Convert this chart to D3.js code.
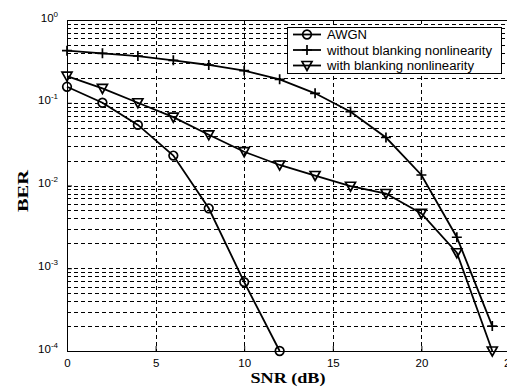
<!DOCTYPE html>
<html>
<head>
<meta charset="utf-8">
<script src="https://cdn.jsdelivr.net/npm/d3@7"></script>
<style>
  body { margin: 0; background: #fff; }
  svg { display: block; }
</style>
</head>
<body>
<div id="berchart"></div>
<script>
var snr = [0, 2, 4, 6, 8, 10, 12, 14, 16, 18, 20, 22, 24];
var awgn = [0.156, 0.1, 0.054, 0.023, 0.0053, 0.00068, 0.0001];
var noBlanking = [0.426, 0.396, 0.367, 0.326, 0.286, 0.244, 0.192, 0.130, 0.078, 0.038, 0.0134, 0.00237, 0.0002];
var withBlanking = [0.21, 0.149, 0.1, 0.067, 0.041, 0.0256, 0.0177, 0.0132, 0.0098, 0.008, 0.0046, 0.00154, 0.0001];
var xTicks = [0, 5, 10, 15, 20, 25];
var yExps = [-4, -3, -2, -1, 0];
var legendLabels = ["AWGN", "without blanking nonlinearity", "with blanking nonlinearity"];

var margin = {top: 20, left: 67},
    width = 507,
    height = 390,
    width_g = 443,
    height_g = 331;

var svg = d3.select("#berchart").append("svg")
    .attr("width", width)
    .attr("height", height);

var x = d3.scaleLinear().domain([0, 25]).range([0, width_g]);
var y = d3.scaleLog().domain([1e-4, 1]).range([height_g, 0]);

var frg = svg.append("g")
    .attr("transform", "translate(" + margin.left + "," + margin.top + ")");

// grid lines, dashed like matlab
var minorY = [];
yExps.slice(0, 4).forEach(function (e) {
    for (var k = 1; k <= 9; k++) {
        if (k == 1 && e == -4) continue;
        minorY.push(k * Math.pow(10, e));
    }
});
var grid = frg.append("g").attr("class", "grid")
    .attr("stroke", "#000").attr("stroke-width", 1).attr("stroke-dasharray", "4,3");
grid.selectAll(".hy").data(minorY).enter().append("line")
    .attr("x1", 0).attr("x2", width_g)
    .attr("y1", function (d) { return Math.round(y(d)) + 0.5; })
    .attr("y2", function (d) { return Math.round(y(d)) + 0.5; });
grid.selectAll(".vx").data([5, 10, 15, 20]).enter().append("line")
    .attr("y1", 0).attr("y2", height_g)
    .attr("x1", function (d) { return Math.round(x(d)) + 0.5; })
    .attr("x2", function (d) { return Math.round(x(d)) + 0.5; });

// axes
var xAxis = d3.axisBottom(x).tickValues(xTicks).tickSize(-5).tickPadding(8);
var yAxis = d3.axisLeft(y).tickValues(yExps.map(function (e) { return Math.pow(10, e); }))
    .tickSize(-5).tickPadding(8).tickFormat("");

var gx = frg.append("g")
    .attr("transform", "translate(0," + height_g + ")")
    .call(xAxis);
gx.selectAll("text").attr("font-family", "Liberation Sans, Arial, sans-serif")
    .attr("font-size", 11.5).attr("fill", "#000");

var gy = frg.append("g").call(yAxis);
gy.selectAll(".tick").each(function (d) {
    var t = d3.select(this).select("text")
        .attr("font-family", "Liberation Sans, Arial, sans-serif")
        .attr("fill", "#000")
        .attr("x", -9).attr("dy", "0.1em");
    t.append("tspan").attr("font-size", 11.5).text("10");
    t.append("tspan").attr("font-size", 8).attr("dy", "-0.6em")
        .text(Math.round(Math.log10(d)));
});
frg.selectAll(".domain").attr("stroke", "#000");
frg.selectAll(".tick line").attr("stroke", "#000");

// frame (top border)
frg.append("line").attr("x1", 0).attr("x2", width_g).attr("y1", 0.5).attr("y2", 0.5)
    .attr("stroke", "#000");
frg.append("line").attr("x1", width_g - 0.5).attr("x2", width_g - 0.5).attr("y1", 0).attr("y2", height_g)
    .attr("stroke", "#000");

// curves
var line = d3.line()
    .x(function (d) { return x(d[0]); })
    .y(function (d) { return y(d[1]); });
var series = [awgn, noBlanking, withBlanking].map(function (vals) {
    return vals.map(function (v, i) { return [snr[i], v]; });
});

function marker(g, i) {
    if (i == 0) {
        g.append("circle").attr("r", 4.3);
    } else if (i == 1) {
        g.append("path").attr("d", "M-5,0H5M0,-5V5");
    } else {
        g.append("path").attr("d", "M-5,-4L5,-4L0,5Z");
    }
}

var lg = frg.append("g").attr("class", "linegroup");
series.forEach(function (s, i) {
    lg.append("path").datum(s)
        .attr("d", line)
        .attr("fill", "none")
        .attr("stroke", "#000")
        .attr("stroke-width", 1.8);
    lg.selectAll(".m" + i).data(s).enter().append("g")
        .attr("transform", function (d) { return "translate(" + x(d[0]) + "," + y(d[1]) + ")"; })
        .attr("fill", "none").attr("stroke", "#000").attr("stroke-width", 1.7)
        .each(function () { marker(d3.select(this), i); });
});

// legend
var legend = svg.append("g").attr("transform", "translate(287,27)");
legend.append("rect").attr("x", 0.5).attr("y", 0.5).attr("width", 214).attr("height", 46)
    .attr("fill", "#fff").attr("stroke", "#000");
var legendLen = [40, 165, 147];
legendLabels.forEach(function (lab, i) {
    var row = legend.append("g").attr("transform", "translate(0," + (7.5 + i * 15.5) + ")");
    row.append("line").attr("x1", 6).attr("x2", 34).attr("y1", 0).attr("y2", 0)
        .attr("stroke", "#000").attr("stroke-width", 1.8);
    var m = row.append("g").attr("transform", "translate(20,0)")
        .attr("fill", "none").attr("stroke", "#000").attr("stroke-width", 1.7);
    marker(m, i);
    row.append("text").attr("x", 40).attr("y", 4.5)
        .attr("font-family", "Liberation Sans, Arial, sans-serif")
        .attr("font-size", 12.5)
        .attr("textLength", legendLen[i]).attr("lengthAdjust", "spacingAndGlyphs")
        .text(lab);
});

// axis labels
svg.append("text")
    .attr("x", 288).attr("y", 383)
    .attr("text-anchor", "middle")
    .attr("font-family", "Liberation Serif, Times New Roman, serif")
    .attr("font-weight", "bold").attr("font-size", 15)
    .attr("textLength", 75).attr("lengthAdjust", "spacingAndGlyphs")
    .text("SNR (dB)");
svg.append("text")
    .attr("transform", "translate(28,191) rotate(-90)")
    .attr("text-anchor", "middle")
    .attr("font-family", "Liberation Serif, Times New Roman, serif")
    .attr("font-weight", "bold").attr("font-size", 15)
    .attr("textLength", 42).attr("lengthAdjust", "spacingAndGlyphs")
    .text("BER");
</script>
</body>
</html>
